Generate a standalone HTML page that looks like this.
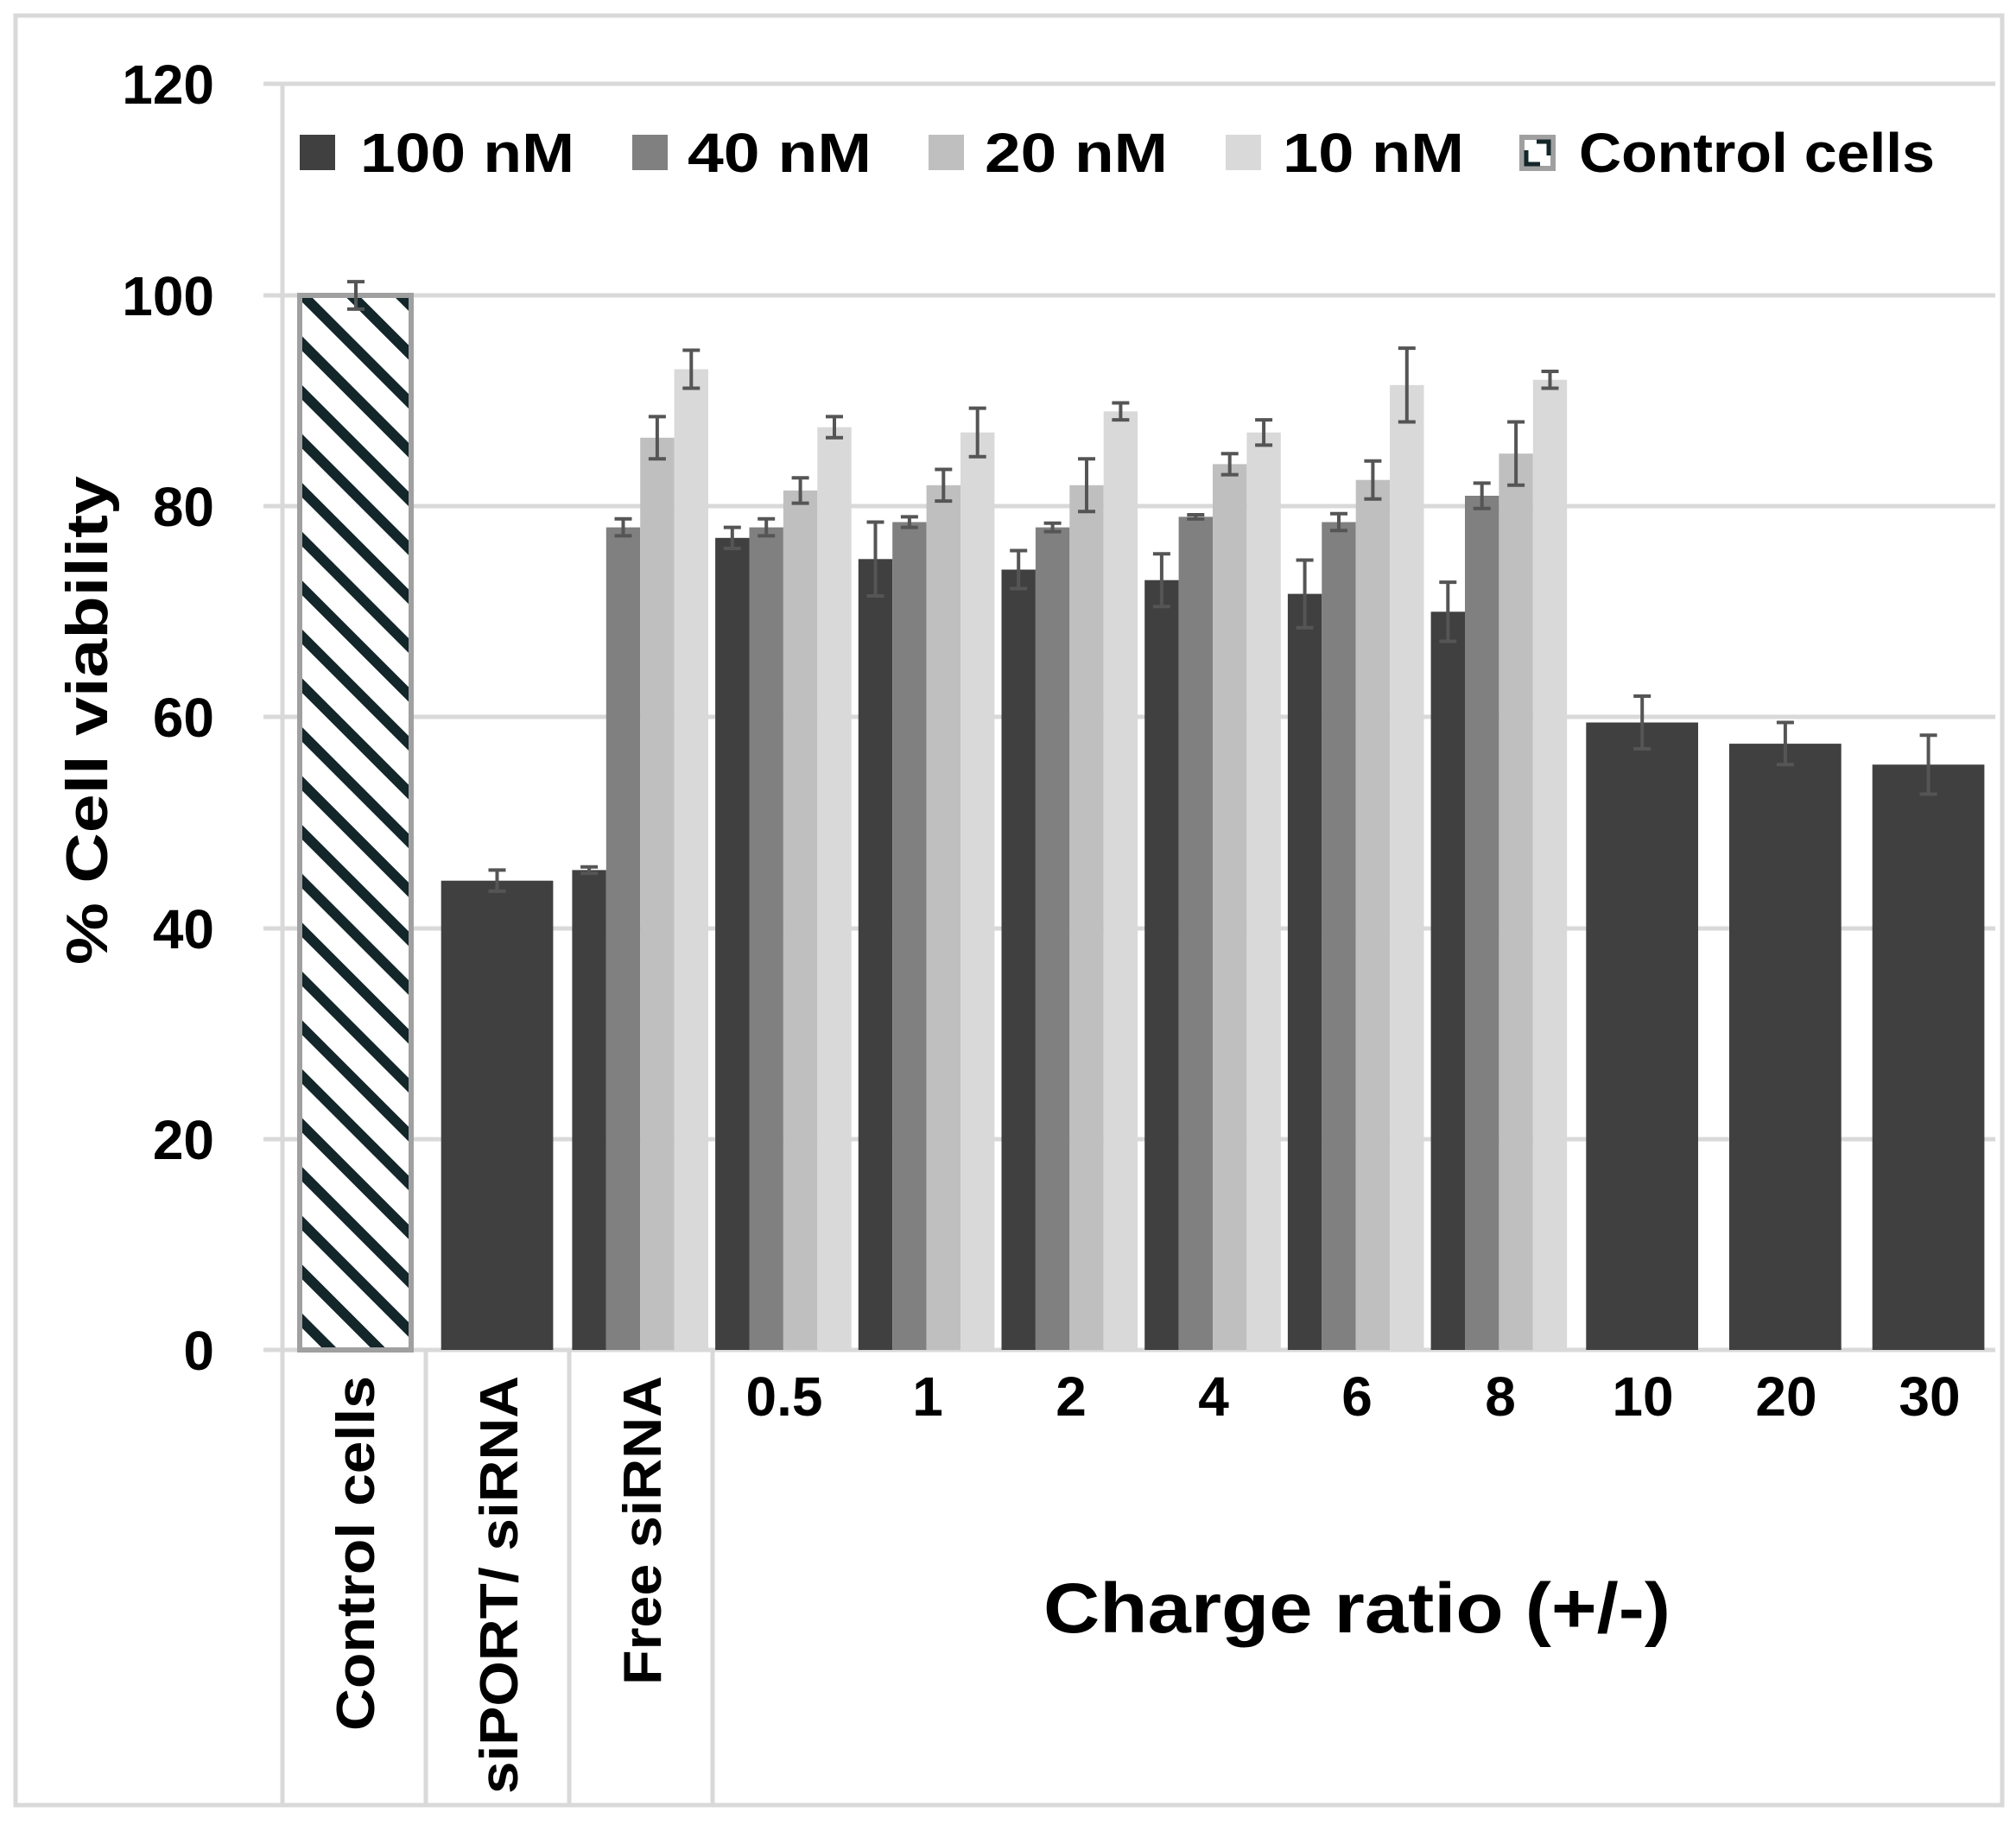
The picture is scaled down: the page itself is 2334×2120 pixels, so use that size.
<!DOCTYPE html>
<html><head><meta charset="utf-8"><style>html,body{margin:0;padding:0;background:#fff}svg{display:block}</style></head>
<body>
<svg width="2334" height="2120" viewBox="0 0 2334 2120" xmlns="http://www.w3.org/2000/svg" font-family="Liberation Sans, sans-serif" font-weight="bold">
<defs>
<pattern id="h" patternUnits="userSpaceOnUse" width="40" height="40" patternTransform="rotate(-45)">
<rect width="40" height="40" fill="#fff"/>
<rect x="0" y="0" width="12" height="40" fill="#13262a"/>
</pattern>
</defs>
<rect x="18" y="18" width="2300" height="2072" fill="#fff" stroke="#d9d9d9" stroke-width="5"/>
<g stroke="#d9d9d9" stroke-width="5">
<line x1="305" y1="97" x2="2310" y2="97"/>
<line x1="305" y1="342" x2="2310" y2="342"/>
<line x1="305" y1="586" x2="2310" y2="586"/>
<line x1="305" y1="830" x2="2310" y2="830"/>
<line x1="305" y1="1075" x2="2310" y2="1075"/>
<line x1="305" y1="1319" x2="2310" y2="1319"/>
<line x1="305" y1="1563" x2="2310" y2="1563"/>
<line x1="327" y1="97" x2="327" y2="2088"/>
<line x1="493" y1="1563" x2="493" y2="2088"/>
<line x1="659" y1="1563" x2="659" y2="2088"/>
<line x1="825" y1="1563" x2="825" y2="2088"/>
</g>
<g font-size="64" text-anchor="end" fill="#000">
<text x="248" y="120">120</text>
<text x="248" y="365">100</text>
<text x="248" y="609">80</text>
<text x="248" y="853">60</text>
<text x="248" y="1098">40</text>
<text x="248" y="1342">20</text>
<text x="248" y="1586">0</text>
</g>
<text transform="translate(124,834) rotate(-90)" font-size="68" text-anchor="middle" textLength="566" lengthAdjust="spacingAndGlyphs">% Cell viability</text>
<g font-size="64">
<rect x="347" y="156" width="41" height="41" fill="#404040"/>
<text x="417" y="199" textLength="248" lengthAdjust="spacingAndGlyphs">100 nM</text>
<rect x="732" y="156" width="41" height="41" fill="#808080"/>
<text x="796" y="199" textLength="213" lengthAdjust="spacingAndGlyphs">40 nM</text>
<rect x="1075" y="156" width="41" height="41" fill="#bfbfbf"/>
<text x="1140" y="199" textLength="212" lengthAdjust="spacingAndGlyphs">20 nM</text>
<rect x="1419" y="156" width="41" height="41" fill="#d9d9d9"/>
<text x="1485" y="199" textLength="210" lengthAdjust="spacingAndGlyphs">10 nM</text>
<rect x="1762" y="159" width="36" height="36" fill="#fff" stroke="#a0a0a0" stroke-width="6"/>
<path d="M1767 174 v16 h16" stroke="#13262a" stroke-width="5" fill="none"/>
<path d="M1793 180 v-16 h-14" stroke="#13262a" stroke-width="5" fill="none"/>
<text x="1828" y="199" textLength="412" lengthAdjust="spacingAndGlyphs">Control cells</text>
</g>
<!-- single bars -->
<rect x="347" y="342" width="129" height="1221" fill="url(#h)" stroke="#a0a0a0" stroke-width="6"/>
<rect x="510.7" y="1019.7" width="129.7" height="543.3" fill="#404040"/>
<rect x="1836.3" y="836.5" width="129.7" height="726.5" fill="#404040"/>
<rect x="2002" y="861.1" width="129.7" height="701.9" fill="#404040"/>
<rect x="2167.7" y="885.3" width="129.7" height="677.7" fill="#404040"/>
<!-- group 0 Free -->
<rect x="662.4" y="1007.4" width="39.4" height="555.6" fill="#404040"/>
<rect x="701.8" y="610.6" width="39.4" height="952.4" fill="#808080"/>
<rect x="741.2" y="506.8" width="39.4" height="1056.2" fill="#bfbfbf"/>
<rect x="780.6" y="427.5" width="39.4" height="1135.5" fill="#d9d9d9"/>
<!-- group 1 -->
<rect x="828.1" y="622.8" width="39.4" height="940.2" fill="#404040"/>
<rect x="867.5" y="610.6" width="39.4" height="952.4" fill="#808080"/>
<rect x="906.9" y="567.9" width="39.4" height="995.1" fill="#bfbfbf"/>
<rect x="946.3" y="494.6" width="39.4" height="1068.4" fill="#d9d9d9"/>
<!-- group 2 -->
<rect x="993.8" y="647.3" width="39.4" height="915.7" fill="#404040"/>
<rect x="1033.2" y="604.5" width="39.4" height="958.5" fill="#808080"/>
<rect x="1072.6" y="561.8" width="39.4" height="1001.2" fill="#bfbfbf"/>
<rect x="1112" y="500.7" width="39.4" height="1062.3" fill="#d9d9d9"/>
<!-- group 3 -->
<rect x="1159.5" y="659.5" width="39.4" height="903.5" fill="#404040"/>
<rect x="1198.9" y="610.6" width="39.4" height="952.4" fill="#808080"/>
<rect x="1238.3" y="561.8" width="39.4" height="1001.2" fill="#bfbfbf"/>
<rect x="1277.7" y="476.3" width="39.4" height="1086.7" fill="#d9d9d9"/>
<!-- group 4 -->
<rect x="1325.2" y="671.7" width="39.4" height="891.3" fill="#404040"/>
<rect x="1364.6" y="598.4" width="39.4" height="964.6" fill="#808080"/>
<rect x="1404" y="537.4" width="39.4" height="1025.6" fill="#bfbfbf"/>
<rect x="1443.4" y="500.7" width="39.4" height="1062.3" fill="#d9d9d9"/>
<!-- group 5 -->
<rect x="1490.9" y="687.6" width="39.4" height="875.4" fill="#404040"/>
<rect x="1530.3" y="604.5" width="39.4" height="958.5" fill="#808080"/>
<rect x="1569.7" y="555.7" width="39.4" height="1007.3" fill="#bfbfbf"/>
<rect x="1609.1" y="445.8" width="39.4" height="1117.2" fill="#d9d9d9"/>
<!-- group 6 -->
<rect x="1656.6" y="708.3" width="39.4" height="854.7" fill="#404040"/>
<rect x="1696" y="574" width="39.4" height="989" fill="#808080"/>
<rect x="1735.4" y="525.2" width="39.4" height="1037.8" fill="#bfbfbf"/>
<rect x="1774.8" y="439.7" width="39.4" height="1123.3" fill="#d9d9d9"/>
<!-- error bars -->
<g stroke="#555" stroke-width="4" fill="none">
<path d="M402 326.1h20M412 326.1V357.9M402 357.9h20"/>
<path d="M565.5 1007.4h20M575.5 1007.4V1031.9M565.5 1031.9h20"/>
<path d="M1891.2 806h20M1901.2 806V867M1891.2 867h20"/>
<path d="M2056.9 836.5h20M2066.9 836.5V885.3M2056.9 885.3h20"/>
<path d="M2222.6 851.2h20M2232.6 851.2V919.5M2222.6 919.5h20"/>

<path d="M672.1 1003.7h20M682.1 1003.7V1011.1M672.1 1011.1h20"/>
<path d="M711.5 600.8h20M721.5 600.8V620.4M711.5 620.4h20"/>
<path d="M750.9 482.4h20M760.9 482.4V531.2M750.9 531.2h20"/>
<path d="M790.3 405.5h20M800.3 405.5V449.5M790.3 449.5h20"/>

<path d="M837.8 610.6h20M847.8 610.6V635M837.8 635h20"/>
<path d="M877.2 600.8h20M887.2 600.8V620.4M877.2 620.4h20"/>
<path d="M916.6 553.3h20M926.6 553.3V582.6M916.6 582.6h20"/>
<path d="M956 482.4h20M966 482.4V506.8M956 506.8h20"/>

<path d="M1003.5 604.5h20M1013.5 604.5V690M1003.5 690h20"/>
<path d="M1042.9 598.4h20M1052.9 598.4V610.6M1042.9 610.6h20"/>
<path d="M1082.3 543.5h20M1092.3 543.5V580.1M1082.3 580.1h20"/>
<path d="M1121.7 472.6h20M1131.7 472.6V528.8M1121.7 528.8h20"/>

<path d="M1169.2 637.5h20M1179.2 637.5V681.5M1169.2 681.5h20"/>
<path d="M1208.6 605.7h20M1218.6 605.7V615.5M1208.6 615.5h20"/>
<path d="M1248 531.3h20M1258 531.3V592.3M1248 592.3h20"/>
<path d="M1287.4 466.5h20M1297.4 466.5V486.1M1287.4 486.1h20"/>

<path d="M1334.9 641.2h20M1344.9 641.2V702.2M1334.9 702.2h20"/>
<path d="M1374.3 596h20M1384.3 596V600.9M1374.3 600.9h20"/>
<path d="M1413.7 525.2h20M1423.7 525.2V549.6M1413.7 549.6h20"/>
<path d="M1453.1 486.1h20M1463.1 486.1V515.4M1453.1 515.4h20"/>

<path d="M1500.6 648.5h20M1510.6 648.5V726.7M1500.6 726.7h20"/>
<path d="M1540 594.7h20M1550 594.7V614.3M1540 614.3h20"/>
<path d="M1579.4 533.7h20M1589.4 533.7V577.7M1579.4 577.7h20"/>
<path d="M1618.8 403.1h20M1628.8 403.1V488.5M1618.8 488.5h20"/>

<path d="M1666.3 674.1h20M1676.3 674.1V742.5M1666.3 742.5h20"/>
<path d="M1705.7 559.4h20M1715.7 559.4V588.7M1705.7 588.7h20"/>
<path d="M1745.1 488.5h20M1755.1 488.5V561.8M1745.1 561.8h20"/>
<path d="M1784.5 430h20M1794.5 430V449.5M1784.5 449.5h20"/>
</g>
<g font-size="64" text-anchor="middle">
<text x="908" y="1639">0.5</text>
<text x="1074" y="1639">1</text>
<text x="1240" y="1639">2</text>
<text x="1405" y="1639">4</text>
<text x="1571" y="1639">6</text>
<text x="1737" y="1639">8</text>
<text x="1902" y="1639">10</text>
<text x="2068" y="1639">20</text>
<text x="2234" y="1639">30</text>
</g>
<g font-size="62">
<text transform="translate(433,2004) rotate(-90)" textLength="411" lengthAdjust="spacingAndGlyphs">Control cells</text>
<text transform="translate(599,2077) rotate(-90)" textLength="484" lengthAdjust="spacingAndGlyphs">siPORT/ siRNA</text>
<text transform="translate(765,1951) rotate(-90)" textLength="358" lengthAdjust="spacingAndGlyphs">Free siRNA</text>
</g>
<text x="1571" y="1890" font-size="82" text-anchor="middle" textLength="726" lengthAdjust="spacingAndGlyphs">Charge ratio (+/-)</text>
</svg>
</body></html>
